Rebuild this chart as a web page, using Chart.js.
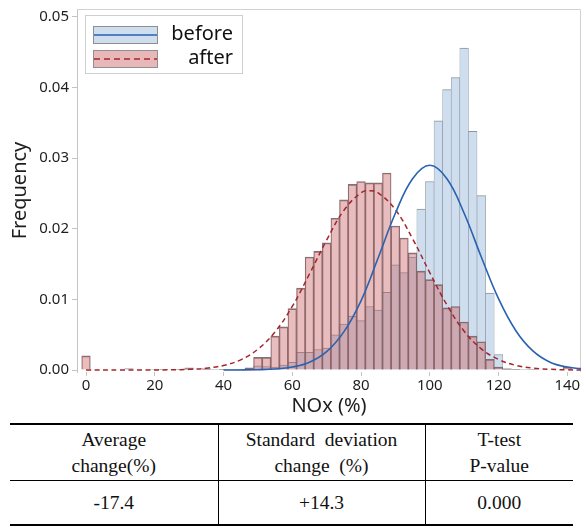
<!DOCTYPE html>
<html>
<head>
<meta charset="utf-8">
<script src="https://cdn.jsdelivr.net/npm/chart.js@4.4.1/dist/chart.umd.min.js"></script>
<style>
  html, body { margin: 0; padding: 0; background: #ffffff; }
  body { width: 583px; height: 528px; position: relative; overflow: hidden; }
  #chartBox { position: absolute; left: 0; top: 0; width: 583px; height: 420px; }
  #stats {
    position: absolute; left: 10px; top: 423px; width: 563px;
    border-collapse: collapse; table-layout: fixed;
    font-family: 'Liberation Serif', 'Times New Roman', serif; font-size: 19.5px; color: #111;
    border-top: 2px solid #000; border-bottom: 2px solid #000;
  }
  #stats td { text-align: center; vertical-align: middle; padding: 0; border-left: 1px solid #000; border-right: 1px solid #000; }
  #stats td:first-child { border-left: none; }
  #stats td:last-child { border-right: none; }
  #stats tr.h td { height: 55px; line-height: 26px; border-bottom: 1px solid #000; }
  #stats tr.v td { height: 43px; line-height: 26px; }
</style>
</head>
<body>
<div id="chartBox"><canvas id="c" width="583" height="420"></canvas></div>
<table id="stats">
  <colgroup><col style="width:208px"><col style="width:207px"><col style="width:148px"></colgroup>
  <tr class="h"><td>Average<br>change(%)</td><td>Standard&nbsp; deviation<br>change&nbsp; (%)</td><td>T-test<br>P-value</td></tr>
  <tr class="v"><td>-17.4</td><td>+14.3</td><td>0.000</td></tr>
</table>
<script>
// ---- data ----
const binCenters = [0, 2.5, 5, 7.5, 10, 12.5, 15, 17.5, 20, 22.5,
  25, 27.5, 30, 32.5, 35, 37.5, 40, 42.5, 45, 47.5,
  50, 52.5, 55, 57.5, 60, 62.5, 65, 67.5, 70, 72.5,
  75, 77.5, 80, 82.5, 85, 87.5, 90, 92.5, 95, 97.5,
  100, 102.5, 105, 107.5, 110, 112.5, 115, 117.5, 120, 122.5,
  125, 127.5, 130, 132.5, 135, 137.5, 140];

const beforeFreq = [0, 0, 0, 0, 0, 0.0002, 0, 0, 0.0001, 0,
  0, 0, 0.0003, 0, 0.0002, 0.0001, 0.0001, 0, 0.0001, 0.0002,
  0.0006, 0.0005, 0.0004, 0.0007, 0.0011, 0.0025, 0.0025, 0.0029, 0.0031, 0.0050,
  0.0065, 0.0076, 0.0070, 0.0090, 0.0085, 0.0110, 0.0149, 0.0138, 0.0160, 0.0228,
  0.0267, 0.0353, 0.0397, 0.0414, 0.0456, 0.0338, 0.0247, 0.0109, 0.0022, 0.0002,
  0.0001, 0.0001, 0, 0, 0, 0, 0];

const afterFreq = [0.0020, 0, 0, 0, 0, 0, 0, 0, 0, 0.0001,
  0, 0.0001, 0.0002, 0, 0.0001, 0, 0.0001, 0.0001, 0.0001, 0.0003,
  0.0018, 0.0018, 0.0048, 0.0061, 0.0087, 0.0116, 0.0160, 0.0168, 0.0180, 0.0215,
  0.0241, 0.0263, 0.0267, 0.0265, 0.0265, 0.0279, 0.0204, 0.0187, 0.0166, 0.0140,
  0.0128, 0.0121, 0.0088, 0.0090, 0.0068, 0.0048, 0.0040, 0.0015, 0.0004, 0.0001,
  0.0001, 0, 0.0001, 0, 0, 0, 0.0004];

// fitted curves
const beforeFitX = [40, 45, 50, 55, 60, 65, 70, 75, 80, 85, 90, 95, 100, 105, 110, 115, 120, 125, 130, 135, 140, 145];
const beforeFitY = [0.000002, 0.00001, 0.00004, 0.00014, 0.00042, 0.0011, 0.0026, 0.0054, 0.0098, 0.0159, 0.0222, 0.0271, 0.0290, 0.0271, 0.0222, 0.0160, 0.0101, 0.0056, 0.0027, 0.0011, 0.00042, 0.00014];

const afterFitX = [0, 10, 15, 20, 25, 30, 35, 40, 45, 50, 55, 60, 65, 70, 75, 80, 82.5, 85, 90, 95, 100, 105, 110, 115, 120, 125, 130, 135, 140, 145];
const afterFitY = [0, 0.000001, 0.000003, 0.000009, 0.00003, 0.00009, 0.00026, 0.00064, 0.00144, 0.00294, 0.0054, 0.0090, 0.0136, 0.0184, 0.0226, 0.0251, 0.0254, 0.0251, 0.0227, 0.0186, 0.0138, 0.0092, 0.0055, 0.0030, 0.0015, 0.00066, 0.00027, 0.0001, 0.00003, 0.00001];

const xTicks = [0, 20, 40, 60, 80, 100, 120, 140];
const yTicks = [0, 0.01, 0.02, 0.03, 0.04, 0.05];
const legendLabels = ['before', 'after'];

// ---- styles ----
const BLUE_FILL = '#cfdeef';
const BLUE_EDGE = '#8d939a';
const RED_FILL = 'rgba(202,95,98,0.42)';
const RED_EDGE = 'rgba(112,100,102,0.9)';
const BLUE_LINE = '#2862b0';
const RED_LINE = '#a3262c';
const AXIS_GRAY = '#c4c4c4';

Chart.defaults.font.family = "'Noto Sans', 'Open Sans', sans-serif";
Chart.defaults.color = '#1e1e1e';

const framePlugin = {
  id: 'frame',
  beforeDatasetsDraw(chart) {
    const { ctx, chartArea: a } = chart;
    ctx.save();
    ctx.strokeStyle = '#d2d2d2';
    ctx.lineWidth = 1;
    ctx.beginPath();
    ctx.moveTo(a.left, Math.round(a.top) + 0.5);
    ctx.lineTo(Math.round(a.right) - 0.5, Math.round(a.top) + 0.5);
    ctx.lineTo(Math.round(a.right) - 0.5, a.bottom);
    ctx.stroke();
    ctx.restore();
  }
};

const legendPlugin = {
  id: 'boxLegend',
  afterDraw(chart) {
    const ctx = chart.ctx;
    ctx.save();
    ctx.fillStyle = '#ffffff';
    ctx.strokeStyle = '#cfcfcf';
    ctx.lineWidth = 1;
    ctx.fillRect(85.5, 15.5, 157, 58);
    ctx.strokeRect(85.5, 15.5, 157, 58);
    const rows = [
      { y: 26.5, fill: BLUE_FILL, line: BLUE_LINE, dash: [] },
      { y: 50.5, fill: '#e8b8b9', line: RED_LINE, dash: [6, 4] }
    ];
    rows.forEach((r, i) => {
      ctx.fillStyle = r.fill;
      ctx.fillRect(93.5, r.y, 64, 17);
      ctx.strokeStyle = '#8f8f8f';
      ctx.lineWidth = 1;
      ctx.setLineDash([]);
      ctx.strokeRect(93.5, r.y, 64, 17);
      ctx.strokeStyle = r.line;
      ctx.lineWidth = 1.6;
      ctx.setLineDash(r.dash);
      ctx.beginPath();
      ctx.moveTo(94, r.y + 8.5);
      ctx.lineTo(157, r.y + 8.5);
      ctx.stroke();
      ctx.setLineDash([]);
      ctx.fillStyle = '#111';
      ctx.font = "20px 'Noto Sans', sans-serif";
      ctx.textAlign = 'right';
      ctx.textBaseline = 'middle';
      ctx.fillText(legendLabels[i], 233, r.y + 8);
    });
    ctx.restore();
  }
};

new Chart(document.getElementById('c'), {
  type: 'bar',
  data: {
    datasets: [
      {
        type: 'line', label: 'before fit',
        data: beforeFitX.map((x, i) => ({ x: x, y: beforeFitY[i] })),
        borderColor: BLUE_LINE, borderWidth: 1.6, pointRadius: 0, fill: false, tension: 0.4, order: 0
      },
      {
        type: 'line', label: 'after fit',
        data: afterFitX.map((x, i) => ({ x: x, y: afterFitY[i] })),
        borderColor: RED_LINE, borderWidth: 1.5, borderDash: [5, 3.5], pointRadius: 0, fill: false, tension: 0.4, order: 0
      },
      {
        type: 'bar', label: 'after',
        data: binCenters.map((x, i) => ({ x: x, y: afterFreq[i] })),
        backgroundColor: RED_FILL, borderColor: RED_EDGE,
        borderWidth: { top: 1, left: 0.6, right: 0.6, bottom: 0 },
        barPercentage: 1, categoryPercentage: 1, grouped: false, order: 1
      },
      {
        type: 'bar', label: 'before',
        data: binCenters.map((x, i) => ({ x: x, y: beforeFreq[i] })),
        backgroundColor: BLUE_FILL, borderColor: BLUE_EDGE,
        borderWidth: { top: 1, left: 0.6, right: 0.6, bottom: 0 },
        barPercentage: 1, categoryPercentage: 1, grouped: false, order: 2
      }
    ]
  },
  options: {
    responsive: false,
    animation: false,
    layout: { padding: { top: 7, right: 2, left: 0, bottom: 0 } },
    plugins: { legend: { display: false }, tooltip: { enabled: false } },
    scales: {
      x: {
        type: 'linear', min: -2.62, max: 144.0, offset: false,
        grid: { display: true, drawOnChartArea: false, drawTicks: true, tickLength: 4, color: AXIS_GRAY, offset: false },
        border: { display: false },
        ticks: { font: { size: 15, lineHeight: 1.1 }, padding: 1, maxRotation: 0, autoSkip: false, color: '#1e1e1e' },
        afterBuildTicks: s => { s.ticks = xTicks.map(v => ({ value: v })); },
        afterFit: s => { s.height = 48; },
        title: { display: true, text: 'NOx (%)', font: { size: 20 }, color: '#1e1e1e', padding: { top: 0, bottom: 2 } }
      },
      y: {
        type: 'linear', min: -0.000282, max: 0.05113,
        grid: { display: true, drawOnChartArea: false, drawTicks: true, tickLength: 5, color: AXIS_GRAY },
        border: { display: true, color: AXIS_GRAY, width: 1 },
        ticks: { font: { size: 15, lineHeight: 0.8 }, padding: 3, color: '#1e1e1e', callback: v => Number(v).toFixed(2) },
        afterBuildTicks: s => { s.ticks = yTicks.map(v => ({ value: v })); },
        afterFit: s => { s.width = 77; },
        title: { display: true, text: 'Frequency', font: { size: 20 }, color: '#1e1e1e', padding: { top: 8, bottom: 0 } }
      }
    }
  },
  plugins: [framePlugin, legendPlugin]
});
</script>
</body>
</html>
